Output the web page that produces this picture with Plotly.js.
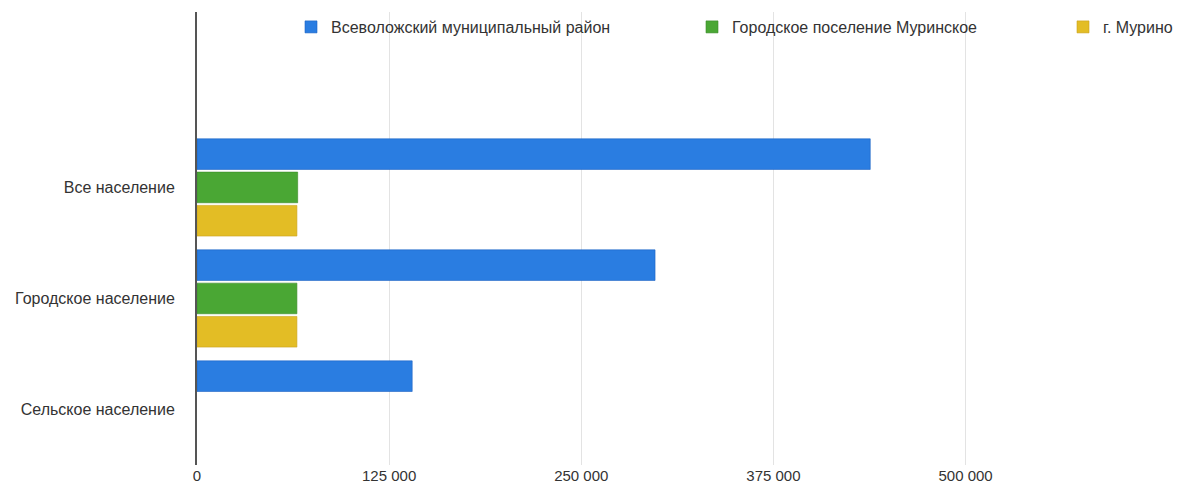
<!DOCTYPE html>
<html>
<head>
<meta charset="utf-8">
<script src="https://cdn.plot.ly/plotly-3.0.1.min.js"></script>
<style>html,body{margin:0;padding:0;background:#fff;}#chart{width:1177px;height:488px;}</style>
</head>
<body>
<div id="chart"></div>
<script>
const categories = ["Все население", "Городское население", "Сельское население"];
const seriesNames = ["Всеволожский муниципальный район", "Городское поселение Муринское", "г. Мурино"];
const vsevolozhsky = [438000, 298000, 140000];
const murinskoe = [65500, 65000, null];
const murino = [65000, 65000, null];
const tickValues = [0, 125000, 250000, 375000, 500000];

const colors = ["#2a7de1", "#4aa734", "#e3bd25"];
const lines = ["#1d63c2", "#3a8a28", "#c9a11c"];
const values = [vsevolozhsky, murinskoe, murino];
const legendIds = ["legend", "legend2", "legend3"];

const traces = values.map((v, i) => ({
  type: "bar",
  orientation: "h",
  name: seriesNames[i],
  y: categories,
  x: v,
  legend: legendIds[i],
  marker: {color: colors[i], line: {color: lines[i], width: 0.6}},
  hoverinfo: "skip"
}));

const legendFont = {family: "Liberation Sans, Arial, sans-serif", size: 16, color: "#333"};
function leg(px) {
  return {x: (px - 197) / 953, xref: "paper", xanchor: "left", y: (465 - 27) / 453, yref: "paper", yanchor: "middle",
          orientation: "h", font: legendFont, bgcolor: "rgba(255,255,255,0)", borderwidth: 0, itemclick: false};
}

const layout = {
  width: 1177, height: 488,
  margin: {l: 197, r: 27, t: 12, b: 23, pad: 0, autoexpand: false},
  paper_bgcolor: "#fff", plot_bgcolor: "#fff",
  separators: ", ",
  barmode: "group",
  bargap: 0.1,
  bargroupgap: 0.08,
  showlegend: true,
  legend: leg(291),
  legend2: leg(692),
  legend3: leg(1063),
  xaxis: {
    range: [0, 620000],
    tickvals: tickValues,
    tickformat: ",d",
    showgrid: true, gridcolor: "#e3e3e3", gridwidth: 1,
    zeroline: false, showline: false, ticks: "",
    tickfont: {family: "Liberation Sans, Arial, sans-serif", size: 15, color: "#333"},
    fixedrange: true
  },
  yaxis: {
    type: "category",
    range: [2.5, -1.58],
    showgrid: false, zeroline: false,
    showline: true, linecolor: "#555", linewidth: 2,
    ticks: "", ticklabelstandoff: 17,
    tickfont: {family: "Liberation Sans, Arial, sans-serif", size: 16, color: "#333"},
    fixedrange: true
  }
};

Plotly.newPlot("chart", traces, layout, {displayModeBar: false, staticPlot: true});
</script>
</body>
</html>
